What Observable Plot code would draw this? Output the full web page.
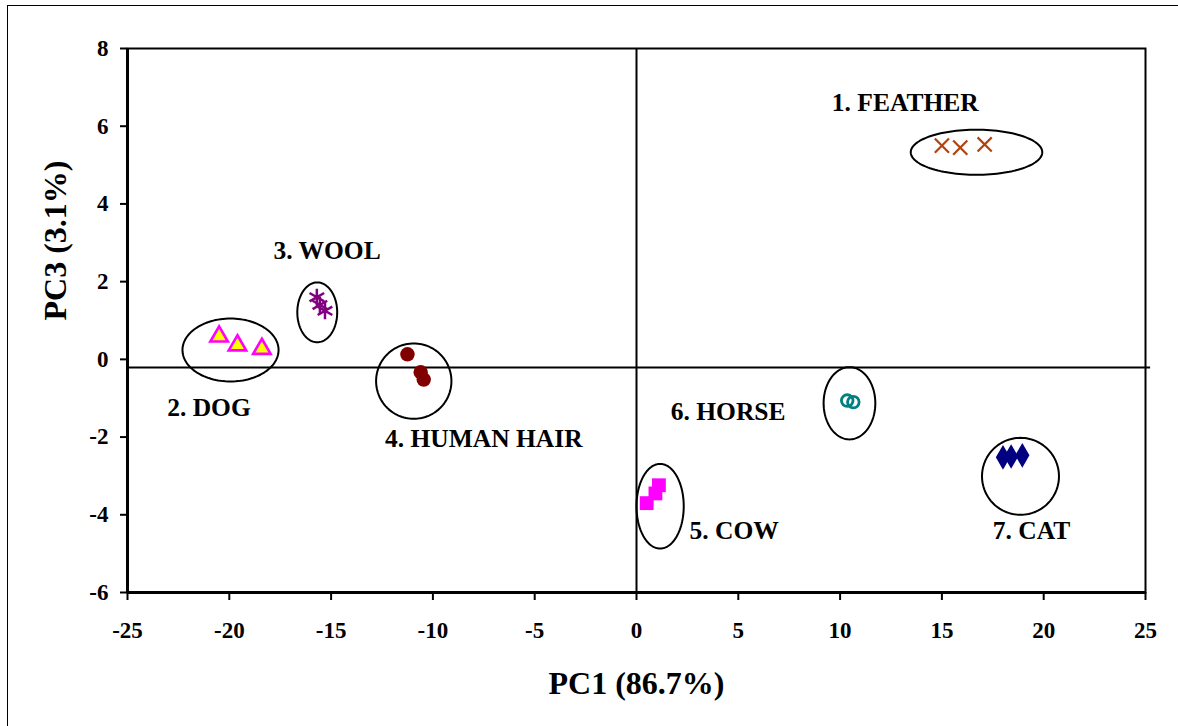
<!DOCTYPE html>
<html>
<head>
<meta charset="utf-8">
<script src="https://cdn.jsdelivr.net/npm/d3@7"></script>
<script src="https://cdn.jsdelivr.net/npm/@observablehq/plot@0.6"></script>
<style>
  html, body { margin: 0; padding: 0; background: #fff; overflow: hidden; }
  #wrap { position: relative; width: 1178px; height: 726px; }
  #border { position: absolute; left: 7px; top: 5px; width: 1300px; height: 900px;
            border-left: 1.5px solid #000; border-top: 1.5px solid #000; pointer-events: none; }
  #chart { position: absolute; left: 0; top: 0; }
</style>
</head>
<body>
<div id="wrap"><div id="chart"></div><div id="border"></div></div>
<script>
// PCA scores (PC1 vs PC3) for keratin samples of seven origins
const groups = ["1. FEATHER", "2. DOG", "3. WOOL", "4. HUMAN HAIR", "5. COW", "6. HORSE", "7. CAT"];

// individual sample scores
const sampleGroup = [
  "1. FEATHER", "1. FEATHER", "1. FEATHER",
  "2. DOG", "2. DOG", "2. DOG",
  "3. WOOL", "3. WOOL", "3. WOOL",
  "4. HUMAN HAIR", "4. HUMAN HAIR", "4. HUMAN HAIR",
  "5. COW", "5. COW", "5. COW",
  "6. HORSE", "6. HORSE",
  "7. CAT", "7. CAT", "7. CAT"
];
const samplePC1 = [15.0, 15.9, 17.1, -20.5, -19.6, -18.4, -15.7, -15.55, -15.3, -11.25, -10.6, -10.45, 1.1, 0.93, 0.5, 10.35, 10.65, 18.0, 18.4, 18.95];
const samplePC3 = [5.5, 5.45, 5.53, 0.59, 0.36, 0.27, 1.6, 1.4, 1.25, 0.13, -0.33, -0.52, -3.24, -3.45, -3.7, -1.06, -1.1, -2.52, -2.5, -2.47];

// cluster rings: centre and half-axes in score units
const ringPC1 = [16.7, -19.94, -15.68, -10.94, 1.16, 10.46, 18.86];
const ringPC3 = [5.33, 0.24, 1.21, -0.56, -3.78, -1.13, -3.01];
const ringHalfPC1 = [3.23, 2.36, 0.98, 1.85, 1.16, 1.27, 1.89];
const ringHalfPC3 = [0.58, 0.81, 0.77, 0.97, 1.09, 0.93, 0.99];

// group label anchors
const labelPC1 = [13.2, -21.0, -15.2, -7.5, 4.8, 4.5, 19.4];
const labelPC3 = [6.6, -1.24, 2.8, -2.04, -4.4, -1.34, -4.4];

// reference lines
const hLinePC3 = -0.21;
const vLinePC1 = 0;

const xTicks = [-25, -20, -15, -10, -5, 0, 5, 10, 15, 20, 25];
const yTicks = [-6, -4, -2, 0, 2, 4, 6, 8];

// marker styling per group
const markerStyle = {
  "1. FEATHER":    {symbol: "times",    r: 6.5, fill: "none",    stroke: "#B4420E", strokeWidth: 2.2},
  "2. DOG":        {symbol: "triangle", r: 6.5, fill: "#FFFF00", stroke: "#FF00FF", strokeWidth: 2.6},
  "3. WOOL":       {symbol: "asterisk", r: 8,   fill: "none",    stroke: "#800080", strokeWidth: 2.5},
  "4. HUMAN HAIR": {symbol: "circle",   r: 7.2, fill: "#800000", stroke: "none",    strokeWidth: 0},
  "5. COW":        {symbol: "square",   r: 7.8, fill: "#FF00FF", stroke: "none",    strokeWidth: 0},
  "6. HORSE":      {symbol: "circle",   r: 5.8, fill: "none",    stroke: "#008080", strokeWidth: 2.8},
  "7. CAT":        {symbol: "diamond",  r: 7.5, fill: "#000080", stroke: "none",    strokeWidth: 0}
};

const samples = sampleGroup.map((g, i) => ({group: g, pc1: samplePC1[i], pc3: samplePC3[i]}));

// outline points for each ring
const ringPoints = groups.flatMap((g, i) =>
  d3.range(0, 361, 3).map(a => {
    const t = a * Math.PI / 180;
    return {group: g, pc1: ringPC1[i] + ringHalfPC1[i] * Math.cos(t), pc3: ringPC3[i] + ringHalfPC3[i] * Math.sin(t)};
  })
);

const labels = groups.map((g, i) => ({text: g, pc1: labelPC1[i], pc3: labelPC3[i]}));

const font = "'Liberation Serif', 'Times New Roman', serif";

const dotMarks = groups.map(g => {
  const s = markerStyle[g];
  return Plot.dot(samples.filter(d => d.group === g), {
    x: "pc1", y: "pc3", symbol: () => s.symbol, r: s.r,
    fill: s.fill, stroke: s.stroke, strokeWidth: s.strokeWidth
  });
});

const chart = Plot.plot({
  width: 1178,
  height: 726,
  marginLeft: 127,
  marginRight: 33,
  marginTop: 48,
  marginBottom: 134,
  style: {fontFamily: font, background: "transparent"},
  x: {domain: [-25, 25]},
  y: {domain: [-6, 8]},
  symbol: {type: "identity"},
  marks: [
    Plot.frame({stroke: "#000", strokeWidth: 2}),
    Plot.ruleX([-25], {stroke: "#000", strokeWidth: 3}),
    Plot.ruleY([-6], {stroke: "#000", strokeWidth: 3}),
    Plot.ruleX([vLinePC1], {y1: -6, y2: 8, stroke: "#000", strokeWidth: 2}),
    Plot.ruleY([hLinePC3], {x1: -25, x2: 25.25, stroke: "#000", strokeWidth: 2}),
    Plot.axisX({ticks: xTicks, tickFormat: d => String(d), tickSize: 8, tickPadding: 21,
      fontSize: 23, fontWeight: "bold", stroke: "#000", strokeWidth: 2, label: null}),
    Plot.axisY({ticks: yTicks, tickFormat: d => String(d), tickSize: 7, tickPadding: 12,
      fontSize: 23, fontWeight: "bold", stroke: "#000", strokeWidth: 2, label: null}),
    Plot.line(ringPoints, {x: "pc1", y: "pc3", z: "group", stroke: "#000", strokeWidth: 2, curve: "linear-closed"}),
    ...dotMarks,
    Plot.text(labels, {x: "pc1", y: "pc3", text: "text", fontSize: 25.5, fontWeight: "bold", fill: "#000"}),
    Plot.text(["PC1 (86.7%)"], {frameAnchor: "bottom", dy: 91, lineAnchor: "middle",
      fontSize: 32, fontWeight: "bold", fill: "#000"}),
    Plot.text(["PC3 (3.1%)"], {frameAnchor: "left", dx: -72, rotate: -90, lineAnchor: "middle",
      fontSize: 32, fontWeight: "bold", fill: "#000"})
  ]
});

document.getElementById("chart").appendChild(chart);
</script>
</body>
</html>
